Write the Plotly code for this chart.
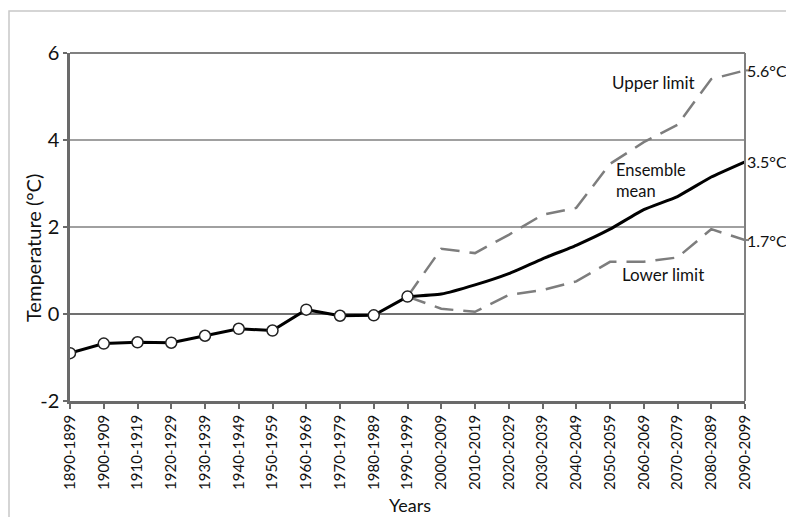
import plotly.graph_objects as go

# Decade labels along the x axis
decades = [
    "1890-1899", "1900-1909", "1910-1919", "1920-1929", "1930-1939",
    "1940-1949", "1950-1959", "1960-1969", "1970-1979", "1980-1989",
    "1990-1999", "2000-2009", "2010-2019", "2020-2029", "2030-2039",
    "2040-2049", "2050-2059", "2060-2069", "2070-2079", "2080-2089",
    "2090-2099",
]

# Observed decadal temperature anomalies (°C), 1890s to 1990s
observed = [-0.9, -0.68, -0.65, -0.66, -0.5, -0.34, -0.38, 0.1, -0.04, -0.03, 0.4]

# Projections from the 1990s onward (°C)
ensemble_mean = [0.4, 0.46, 0.67, 0.93, 1.27, 1.58, 1.95, 2.4, 2.7, 3.15, 3.5]
upper_limit = [0.4, 1.5, 1.4, 1.82, 2.28, 2.44, 3.45, 3.95, 4.35, 5.4, 5.6]
lower_limit = [0.4, 0.12, 0.05, 0.44, 0.55, 0.75, 1.2, 1.2, 1.3, 1.95, 1.7]

y_ticks = [-2, 0, 2, 4, 6]
y_tick_labels = ["-2", "0", "2", "4", "6"]

obs_x = decades[:len(observed)]
proj_x = decades[len(observed) - 1:]

FONT = "Lato"
W, H = 786, 517
M_L, M_R, M_T, M_B = 70, 41, 53, 116
PW = W - M_L - M_R
PH = H - M_T - M_B


def px_x(px):
    return (px - M_L) / PW


def px_y(py):
    return (H - M_B - py) / PH


fig = go.Figure()

dash = "19px,10px"
fig.add_trace(go.Scatter(
    x=proj_x, y=upper_limit, mode="lines",
    line=dict(color="#7d7d7d", width=2.5, dash=dash), hoverinfo="skip",
))
fig.add_trace(go.Scatter(
    x=proj_x, y=lower_limit, mode="lines",
    line=dict(color="#7d7d7d", width=2.5, dash=dash), hoverinfo="skip",
))
fig.add_trace(go.Scatter(
    x=proj_x, y=ensemble_mean, mode="lines",
    line=dict(color="#000000", width=3, shape="spline", smoothing=0.4),
))
fig.add_trace(go.Scatter(
    x=obs_x, y=observed, mode="lines+markers",
    line=dict(color="#000000", width=3),
    marker=dict(size=11, color="#ffffff", line=dict(color="#222222", width=1.5)),
))

# Outer frame, top edge and right edge of the plot box
shapes = [
    dict(type="rect", xref="paper", yref="paper",
         x0=px_x(9), x1=px_x(800), y0=px_y(540), y1=px_y(11),
         line=dict(color="#c8c8c8", width=1.5), fillcolor="rgba(0,0,0,0)", layer="below"),
    dict(type="line", xref="paper", yref="paper", x0=0, x1=1, y0=1, y1=1,
         line=dict(color="#808080", width=2)),
    dict(type="line", xref="paper", yref="paper", x0=1, x1=1, y0=0, y1=1,
         line=dict(color="#808080", width=2)),
]
# Small markers beside the end values on the right edge
for v in (upper_limit[-1], lower_limit[-1]):
    shapes.append(dict(type="line", xref="paper", yref="y",
                       x0=1, x1=px_x(749), y0=v, y1=v,
                       line=dict(color="#808080", width=2)))

annotations = [
    dict(text="Upper limit", x=px_x(653), y=px_y(82), xref="paper", yref="paper",
         showarrow=False, font=dict(size=17, color="#111"), xanchor="center", yanchor="middle"),
    dict(text="Ensemble<br>mean", x=px_x(614), y=px_y(180), xref="paper", yref="paper",
         showarrow=False, font=dict(size=16.5, color="#111"), xanchor="left", yanchor="middle",
         align="left"),
    dict(text="Lower limit", x=px_x(663), y=px_y(274), xref="paper", yref="paper",
         showarrow=False, font=dict(size=17, color="#111"), xanchor="center", yanchor="middle"),
    dict(text="Temperature (°C)", x=px_x(33), y=px_y(248), xref="paper", yref="paper",
         showarrow=False, textangle=-90, font=dict(size=20, color="#111"),
         xanchor="center", yanchor="middle"),
    dict(text="Years", x=px_x(410), y=px_y(505), xref="paper", yref="paper",
         showarrow=False, font=dict(size=18, color="#111"), xanchor="center", yanchor="middle"),
]
for v in (upper_limit[-1], ensemble_mean[-1], lower_limit[-1]):
    annotations.append(dict(
        text=f"{v:.1f}°C", x=px_x(745), y=v, xref="paper", yref="y",
        showarrow=False, font=dict(size=16, color="#111"),
        xanchor="left", yanchor="middle",
    ))

fig.update_layout(
    width=W, height=H,
    margin=dict(l=M_L, r=M_R, t=M_T, b=M_B, autoexpand=False),
    paper_bgcolor="#ffffff", plot_bgcolor="#ffffff",
    showlegend=False,
    font=dict(family=FONT, color="#111"),
    shapes=shapes, annotations=annotations,
    xaxis=dict(
        type="category", categoryorder="array", categoryarray=decades,
        range=[0, len(decades) - 1],
        tickangle=-90, tickfont=dict(size=15, family=FONT, color="#111"),
        showline=True, linecolor="#6a6a6a", linewidth=2.5,
        ticks="outside", ticklen=5, tickwidth=2, tickcolor="#6a6a6a",
        showgrid=False, zeroline=False, fixedrange=True,
    ),
    yaxis=dict(
        range=[-2, 6], tickvals=y_ticks, ticktext=y_tick_labels,
        tickfont=dict(size=20, family=FONT, color="#111"),
        showline=True, linecolor="#6a6a6a", linewidth=2.5,
        ticks="outside", ticklen=4, tickwidth=2, tickcolor="#6a6a6a",
        showgrid=True, gridcolor="#a0a0a0", gridwidth=1.5,
        zeroline=True, zerolinecolor="#707070", zerolinewidth=1.5,
        fixedrange=True,
    ),
)

fig.write_html("out.html")
